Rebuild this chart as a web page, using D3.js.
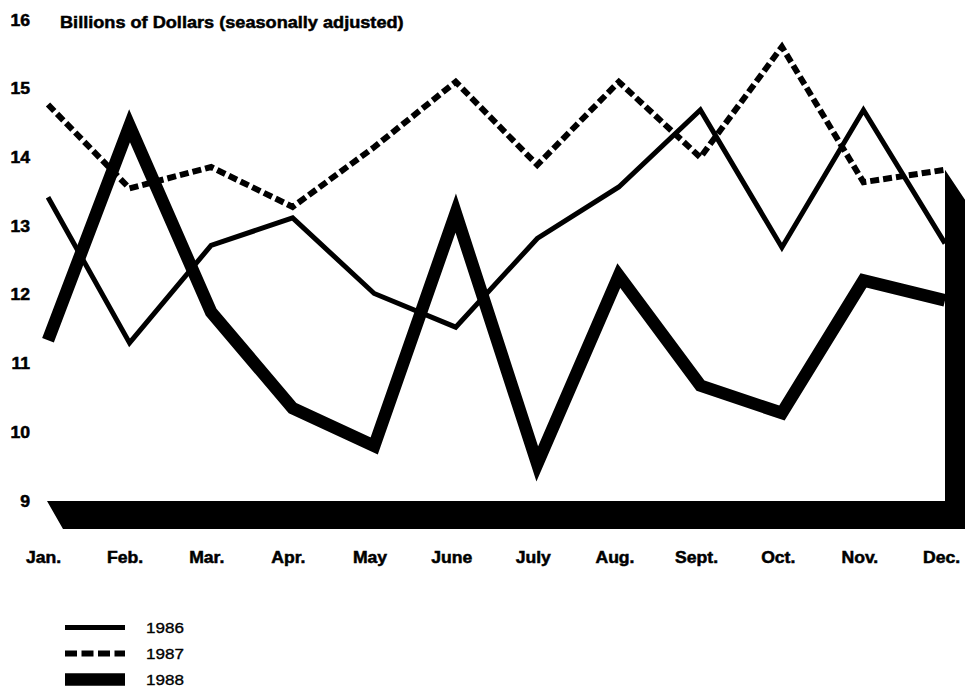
<!DOCTYPE html>
<head>
<title>Billions of Dollars (seasonally adjusted)</title>
<meta charset="utf-8">
<style>

body {
  margin: 0;
  background: #fff;
}

svg {
  display: block;
}

text {
  font-family: "Liberation Sans", Arial, Helvetica, sans-serif;
  fill: #000;
}

.axis text,
.title {
  font-size: 16px;
  font-weight: bold;
  stroke: #000;
  stroke-width: 0.5px;
}

.legend text {
  font-size: 15.5px;
  stroke: #000;
  stroke-width: 0.35px;
}

.axis path,
.axis line {
  display: none;
}

.line {
  fill: none;
  stroke: #000;
  stroke-linejoin: miter;
  stroke-miterlimit: 10;
}

</style>

<script src="https://cdn.jsdelivr.net/npm/d3@7"></script>
</head>

<body>
<script type="text/javascript">
"use strict";

// values (billions of dollars)
var months = ["Jan.", "Feb.", "Mar.", "Apr.", "May", "June",
              "July", "Aug.", "Sept.", "Oct.", "Nov.", "Dec."];
var v1986 = [13.42, 11.3, 12.72, 13.12, 12.02, 11.53, 12.82, 13.57, 14.69, 12.69, 14.69, 12.75];
var v1987 = [14.77, 13.55, 13.86, 13.28, 14.15, 15.1, 13.89, 15.1, 14.0, 15.61, 13.64, 13.82];
var v1988 = [11.34, 14.46, 11.75, 10.35, 9.8, 13.19, 9.54, 12.28, 10.68, 10.28, 12.21, 11.92];
var years = ["1986", "1987", "1988"];
var yTicks = [9, 10, 11, 12, 13, 14, 15, 16];
var yMin = 9, yMax = 16, wallTop = 13.82;

var width = 965,
    height = 688,
    stretch = 1.1; // the printed lettering is a little wider than the font

var x = d3.scalePoint()
    .domain(months)
    .range([48, 945]);

var xLabel = d3.scalePoint()
    .domain(months)
    .range([43, 941]);

var y = d3.scaleLinear()
    .domain([yMin, yMax])
    .range([501, 20]);

var series = [
  {year: years[0], values: v1986, width: 5, dash: null, legendDash: null},
  {year: years[1], values: v1987, width: 6, dash: "9,4", legendDash: "12,4.5"},
  {year: years[2], values: v1988, width: 12.5, dash: null, legendDash: null}
];

var line = d3.line()
    .x(function(d, i) { return x(months[i]); })
    .y(function(d) { return y(d); });

var svg = d3.select("body").append("svg")
    .attr("width", width)
    .attr("height", height);

// floor and right wall of the box
var x0 = x(months[0]) - 1,
    x1 = x(months[months.length - 1]),
    y0 = y(yMin),
    yw = y(wallTop);
svg.append("polygon")
    .attr("points", [
      [x0, y0], [x1, y0], [x1, yw], [x1 + 20, yw + 30],
      [x1 + 20, y0 + 28], [x0 + 16, y0 + 28]
    ].join(" "))
    .attr("fill", "#000");

svg.append("text")
    .attr("class", "title")
    .attr("transform", "translate(60,28) scale(" + stretch + ",1)")
    .style("font-size", "16.5px")
    .text("Billions of Dollars (seasonally adjusted)");

svg.append("g")
    .attr("class", "axis y")
    .attr("transform", "translate(30,0)")
    .call(d3.axisLeft(y).tickValues(yTicks).tickSize(0).tickPadding(0)
      .tickFormat(d3.format("d")))
  .selectAll("text")
    .attr("transform", "scale(" + stretch + ",1)");

svg.append("g")
    .attr("class", "axis x")
    .attr("transform", "translate(0,550)")
    .call(d3.axisBottom(xLabel).tickSize(0).tickPadding(0))
  .selectAll("text")
    .attr("dy", "0.82em")
    .attr("transform", "scale(" + stretch + ",1)");

svg.selectAll(".line")
    .data([series[1], series[0], series[2]])
  .enter().append("path")
    .attr("class", "line")
    .attr("d", function(d) { return line(d.values); })
    .attr("stroke-width", function(d) { return d.width; })
    .attr("stroke-dasharray", function(d) { return d.dash; });

// legend
var legend = svg.selectAll(".legend")
    .data(series)
  .enter().append("g")
    .attr("class", "legend")
    .attr("transform", function(d, i) { return "translate(65," + (627.5 + i * 26) + ")"; });

legend.append("line")
    .attr("x1", 0)
    .attr("x2", 60)
    .attr("stroke", "#000")
    .attr("stroke-width", function(d) { return d.width; })
    .attr("stroke-dasharray", function(d) { return d.legendDash; });

legend.append("text")
    .attr("transform", "translate(81,5.5) scale(" + stretch + ",1)")
    .text(function(d) { return d.year; });

</script>
</body>
